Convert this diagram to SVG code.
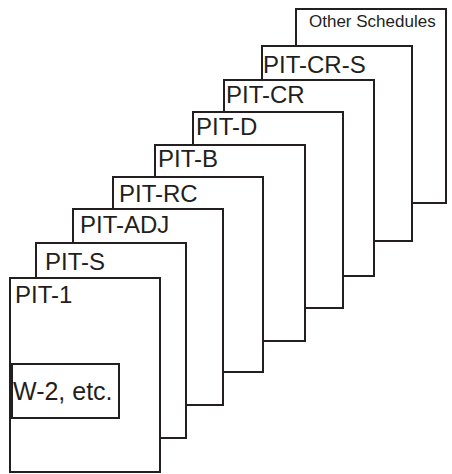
<svg xmlns="http://www.w3.org/2000/svg" width="452" height="474" viewBox="0 0 452 474">
<style>
.page{fill:#fff;stroke:#231f20;stroke-width:2}
.lbl{font-family:"Liberation Sans",Arial,sans-serif;font-size:24px;fill:#231f20}
.sm{font-family:"Liberation Sans",Arial,sans-serif;font-size:17px;fill:#231f20}
</style>
<rect width="452" height="474" fill="#fff"/>
<g id="other"><rect class="page" x="296" y="9" width="150" height="194"/><text class="sm" x="309" y="27">Other Schedules</text></g>
<g id="pit-cr-s"><rect class="page" x="262" y="46" width="150" height="195"/><text class="lbl" x="263" y="73">PIT-CR-S</text></g>
<g id="pit-cr"><rect class="page" x="224" y="80" width="150" height="196"/><text class="lbl" x="226" y="103">PIT-CR</text></g>
<g id="pit-d"><rect class="page" x="193" y="112" width="150" height="196"/><text class="lbl" x="196" y="135">PIT-D</text></g>
<g id="pit-b"><rect class="page" x="155" y="145" width="150" height="196"/><text class="lbl" x="158" y="167">PIT-B</text></g>
<g id="pit-rc"><rect class="page" x="113" y="177" width="150" height="195"/><text class="lbl" x="119" y="202">PIT-RC</text></g>
<g id="pit-adj"><rect class="page" x="73" y="209" width="150" height="196"/><text class="lbl" x="80" y="233">PIT-ADJ</text></g>
<g id="pit-s"><rect class="page" x="36" y="243" width="150" height="195"/><text class="lbl" x="45" y="270">PIT-S</text></g>
<g id="pit-1"><rect class="page" x="10" y="278" width="150" height="194"/><text class="lbl" x="15" y="303">PIT-1</text></g>
<g id="w2"><rect class="page" x="12" y="364" width="107" height="54"/><text class="lbl" x="13" y="400" style="font-size:25px">W-2, etc.</text></g>
<g id="connectors"/>
</svg>
